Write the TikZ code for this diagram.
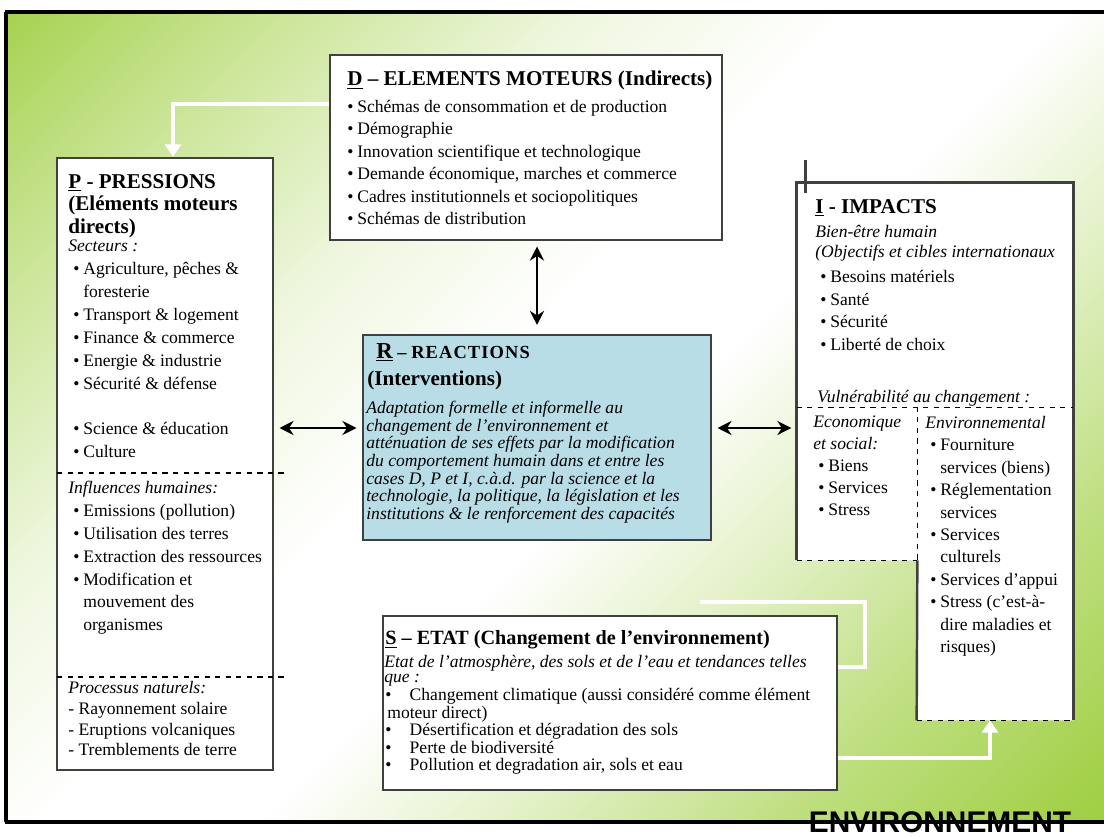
\documentclass[tikz,border=0pt]{standalone}
\usepackage{fontspec}
\setmainfont{Liberation Serif}
\newfontfamily\slidefont{Liberation Sans}
\usetikzlibrary{arrows.meta,fit}
\definecolor{leaf}{RGB}{146,200,40}
\definecolor{reaction}{RGB}{184,221,230}
\colorlet{box edge}{black!75}
\pgfdeclarehorizontalshading{slide}{100bp}{%
  color(0bp)=(leaf); color(12bp)=(leaf!90); color(24bp)=(leaf!50);
  color(36bp)=(leaf!15); color(46bp)=(white); color(54bp)=(white);
  color(63bp)=(leaf!25); color(74bp)=(leaf!60); color(86bp)=(leaf!90);
  color(100bp)=(leaf)}
\newcommand\itm[1][0.2cm]{\hspace*{0.1cm}\makebox[#1][l]{\textbullet}}
\newcommand\ctd{\hspace*{0.3cm}}
\tikzset{
  box/.style={draw=box edge, line width=1.4pt, fill=white, inner sep=0pt},
  divider/.style={draw=black, dashed, line width=0.9pt},
  rim/.style={draw=box edge, line width=1.4pt},
  txt/.style={anchor=north west, align=left, inner sep=0pt},
  head/.style={txt, font=\bfseries\fontsize{12}{12.8}\selectfont},
  dbl/.style={{Stealth[length=8pt,width=8pt]}-{Stealth[length=8pt,width=8pt]}, line width=1.6pt},
  flow/.style={white, line width=2.2pt, -{Triangle[length=7pt,width=9pt]}},
  trail/.style={white, line width=2.2pt}
}

\begin{document}
\begin{tikzpicture}[x=0.02cm, y=-0.02cm]
  \useasboundingbox (0,0) rectangle (1104,837);
  % slide background
  \shade[shading=slide, shading angle=-45] (6,12) rectangle (1104,822);
  \draw[line width=2.8pt] (5,12) -- (1104,12);
  \draw[line width=2pt] (6,12) -- (6,822);
  \draw[line width=2.8pt] (5,822) -- (1104,822);
  \node[anchor=base west, text=white, xscale=0.85, font=\slidefont\bfseries\fontsize{16}{16}\selectfont] (soc) at (810,48) {SOCIETE HUMAINE};
  \node[anchor=base, font=\slidefont\bfseries\fontsize{17}{17}\selectfont] (env) at (940,832) {ENVIRONNEMENT};
  \draw[trail] (700,602) -| (865,667) -- (837,667);

  % boxes
  \node[box, fit={(330,55) (722,240)}] (D) {};
  \node[box, fit={(57,158) (273,770)}] (P) {};
  \node[box, fill=reaction, fit={(363,335) (711,540)}] (R) {};
  \node[box, fit={(383,616) (837,790)}] (S) {};
  \node[inner sep=0pt, fit={(797,183) (1073,407)}] (I) {};
  \node[inner sep=0pt, fit={(797,407) (917,560)}] (Ieco) {};
  \node[inner sep=0pt, fit={(917,407) (1073,720)}] (Ienv) {};
  \fill[white] (Ieco.south west) -- (I.north west) -- (I.north east) -- (Ienv.south east)
    -- (Ienv.south west) -- (Ieco.south east) -- cycle;
  \draw[rim] (Ieco.south west) -- (I.north west) -- (I.north east) -- (Ienv.south east);
  \draw[rim] (Ieco.south east) -- (Ienv.south west);
  \draw[divider] (Ieco.south west) -- (Ieco.south east);
  \draw[divider] (Ienv.south west) -- (Ienv.south east);
  \draw[divider] (I.south west) -- (I.south east);
  \draw[divider] (Ieco.north east) -- (Ieco.south east);
  \draw[rim] ([xshift=0.18cm, yshift=-0.2cm]I.north west) -- ++(0,-33);
  \draw[divider] (57,473) -- (287,473);
  \draw[divider] (57,677) -- (287,677);

  % P - pressions
  \node[head] (Ptitle) at (68,174) {\underline{P} - PRESSIONS\\(Eléments moteurs\\directs)};
  \node[txt, font=\fontsize{10}{13}\selectfont] (Psect) at (68,240) {\textit{Secteurs :}\\
    \itm Agriculture, pêches \&\\ \ctd foresterie\\ \itm Transport \& logement\\
    \itm Finance \& commerce\\ \itm Energie \& industrie\\ \itm Sécurité \& défense\\[13pt]
    \itm Science \& éducation\\ \itm Culture};
  \node[txt, font=\fontsize{10}{13}\selectfont] (Phum) at (68,481) {\textit{Influences humaines:}\\
    \itm Emissions (pollution)\\ \itm Utilisation des terres\\ \itm Extraction des ressources\\
    \itm Modification et\\ \ctd mouvement des\\ \ctd organismes};
  \node[txt, font=\fontsize{10}{11.8}\selectfont] (Pnat) at (68,681) {\textit{Processus naturels:}\\
    - Rayonnement solaire\\ - Eruptions volcaniques\\ - Tremblements de terre};

  % D - elements moteurs
  \node[head] (Dtitle) at (347,71) {\underline{D} -- ELEMENTS MOTEURS (Indirects)};
  \node[txt, font=\fontsize{10}{12.75}\selectfont] (Dlist) at (342,100) {%
    \itm Schémas de consommation et de production\\ \itm Démographie\\
    \itm Innovation scientifique et technologique\\ \itm Demande économique, marches et commerce\\
    \itm Cadres institutionnels et sociopolitiques\\ \itm Schémas de distribution};

  % R - reactions
  \node[txt, font=\bfseries\fontsize{10.5}{12}\selectfont] (Rtitle) at (376,343)
    {{\fontsize{13}{13}\selectfont\underline{R}} -- {\addfontfeature{LetterSpace=6}REACTIONS}};
  \node[head] (Rsub) at (367,371) {(Interventions)};
  \node[txt, font=\itshape\fontsize{10}{10}\selectfont] (Rbody) at (366,401) {%
    Adaptation formelle et informelle au\\ changement de l'environnement et\\
    atténuation de ses effets par la modification\\ du comportement humain dans et entre les\\
    cases D, P et I, c.à.d. par la science et la\\ technologie, la politique, la législation et les\\
    institutions \& le renforcement des capacités};

  % I - impacts
  \node[head] (Ititle) at (815,199) {\underline{I} - IMPACTS};
  \node[txt, font=\itshape\fontsize{10}{11.4}\selectfont] (Ihum) at (815,225)
    {Bien-être humain\\ (Objectifs et cibles internationaux};
  \node[txt, font=\fontsize{10}{12.9}\selectfont] (Ineeds) at (815,270) {%
    \itm Besoins matériels\\ \itm Santé\\ \itm Sécurité\\ \itm Liberté de choix};
  \node[txt, font=\itshape\fontsize{10}{12}\selectfont] (Ivuln) at (817,390) {Vulnérabilité au changement :};
  \node[txt, font=\fontsize{10}{12.5}\selectfont] (Iecotxt) at (813,416) {%
    \textit{Economique}\\ \textit{et social:}\\ \itm Biens\\ \itm Services\\ \itm Stress};
  \node[txt, font=\fontsize{10}{12.75}\selectfont] (Ienvtxt) at (925,416) {%
    \textit{Environnemental}\\ \itm Fourniture\\ \ctd services (biens)\\ \itm Réglementation\\
    \ctd services\\ \itm Services\\ \ctd culturels\\ \itm Services d'appui\\
    \itm Stress (c'est-à-\\ \ctd dire maladies et\\ \ctd risques)};

  % S - etat
  \node[txt, font=\bfseries\fontsize{11.5}{12}\selectfont] (Stitle) at (385,630)
    {\underline{S} -- ETAT (Changement de l'environnement)};
  \node[txt, font=\itshape\fontsize{10}{8.5}\selectfont] (Snote) at (384,655)
    {Etat de l'atmosphère, des sols et de l'eau et tendances telles\\ que :};
  \node[txt, font=\fontsize{10}{10}\selectfont] (Slist) at (380,688) {%
    \itm[0.4cm] Changement climatique (aussi considéré comme élément\\
    \hspace*{0.14cm}moteur direct)\\ \itm[0.4cm] Désertification et dégradation des sols\\
    \itm[0.4cm] Perte de biodiversité\\ \itm[0.4cm] Pollution et degradation air, sols et eau};

  % arrows
  \coordinate (Rl) at ([yshift=0.19cm]R.west);
  \coordinate (Rr) at ([yshift=0.19cm]R.east);
  \draw[dbl, shorten <=3pt, shorten >=5pt] (D.south -| R.north) -- (R.north);
  \draw[dbl, shorten <=3pt, shorten >=3pt] (P.east |- Rl) -- (Rl);
  \draw[dbl, shorten <=3pt, shorten >=3pt] (Rr) -- (I.west |- Rr);
  \draw[flow] ([yshift=-1cm]D.north west) -| ([xshift=0.16cm]P.north);
  \draw[flow] ([yshift=-1.1cm]S.east) -| ([xshift=-0.1cm]Ienv.south);
\end{tikzpicture}
\end{document}
